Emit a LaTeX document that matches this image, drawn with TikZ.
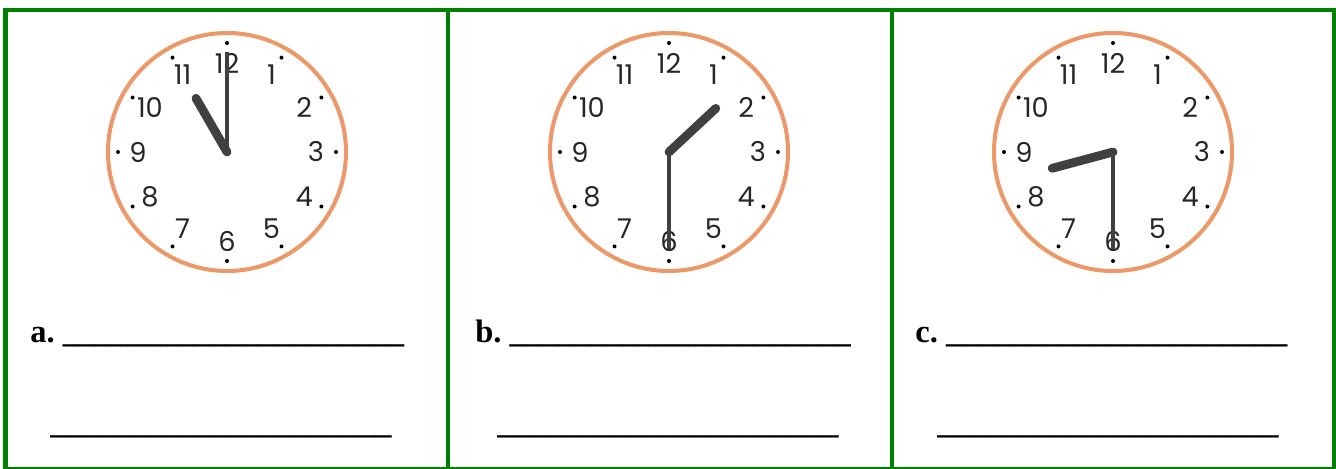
\documentclass[tikz,border=0pt]{standalone}
\usepackage{fontspec}
\newfontfamily\clockfont{Poppins}
\newfontfamily\answerfont{Liberation Serif}
\definecolor{framegreen}{RGB}{0,128,0}
\definecolor{rimorange}{RGB}{236,152,104}
\definecolor{handgray}{RGB}{64,64,64}
\newcommand{\answerline}{\_\_\_\_\_\_\_\_\_\_\_\_\_\_\_\_\_\_\_\_\_}
\tikzset{
  framebox/.style={draw=framegreen, line width=2.6pt},
  clockrim/.style={draw=rimorange, line width=2.3pt},
  tickdot/.style={fill=black},
  clocknum/.style={font=\clockfont\fontsize{15.5}{16}\selectfont, text=black!85, inner sep=0pt},
  hourhand/.style={draw=handgray, line width=5pt, line cap=round},
  minutehand/.style={draw=handgray, line width=2.3pt},
  answerlabel/.style={font=\answerfont\bfseries\fontsize{18.5}{22}\selectfont, inner sep=0pt, anchor=base west},
}

\begin{document}
\begin{tikzpicture}[x=0.02cm, y=-0.02cm]
    % pixel coordinates, origin top-left
    \useasboundingbox (0,0) rectangle (1336,468);

    % --- Frame and dividers ---
    \draw[framebox] (5.5,10) rectangle (1334,469);
    \draw[framebox] (448,10) -- (448,469);
    \draw[framebox] (892,10) -- (892,469);

    % --- Clock faces ---
    \foreach \cx/\cn in {227/a, 669/b, 1113/c} {
        \coordinate (ctr-\cn) at (\cx,152);
        \draw[clockrim] (ctr-\cn) circle (119);
        \begin{scope}[shift={(ctr-\cn)}]
            \foreach \h in {1,...,12} {
                \fill[tickdot] (30*\h-90:109) circle (2);
                \node[clocknum] (num-\cn-\h) at (30*\h-90:89) {\h};
            }
        \end{scope}
    }

    % --- Hands ---
    \draw[hourhand] (ctr-a) -- ++(-120:62); % 11:00
    \draw[minutehand] (ctr-a) -- ++(-90:100);
    \draw[hourhand] (ctr-b) -- ++(-43:64); % 1:30
    \draw[minutehand] (ctr-b) -- ++(90:97);
    \draw[hourhand] (ctr-c) -- ++(165:63); % 8:30
    \draw[minutehand] (ctr-c) -- ++(90:97);

    % --- Answer lines ---
    \node[answerlabel] (ans-a) at (30,342) {a.\ \answerline};
    \node[answerlabel] (ans-b) at (475,342) {b.\ \answerline};
    \node[answerlabel] (ans-c) at (915,342) {c.\ \answerline};
    \node[answerlabel] (ans-a2) at (50,433) {\answerline};
    \node[answerlabel] (ans-b2) at (497,433) {\answerline};
    \node[answerlabel] (ans-c2) at (937,433) {\answerline};

\end{tikzpicture}
\end{document}
